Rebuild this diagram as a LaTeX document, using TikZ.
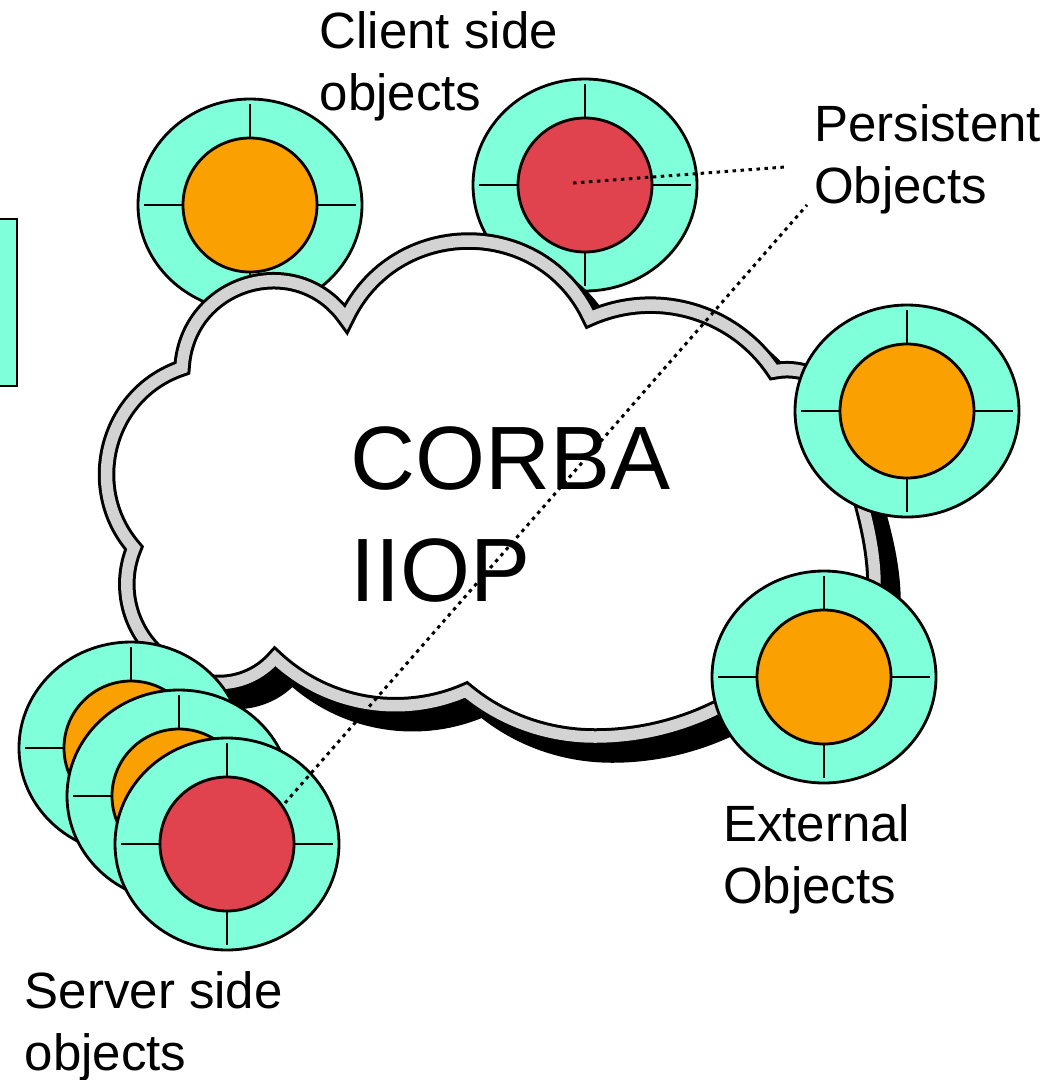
\documentclass[tikz,border=0pt]{standalone}
\usepackage{fontspec}
\setmainfont{Liberation Sans}
\definecolor{ringc}{RGB}{127,255,218}
\definecolor{corange}{RGB}{250,160,0}
\definecolor{cred}{RGB}{224,67,78}
\definecolor{cgray}{RGB}{211,211,211}
\def\cloudpath{(182,368) .. controls (187,281) and (297,248.8) .. (346,319)
 .. controls (394.6,215.7) and (541.4,214.7) .. (590,318)
 .. controls (656.1,288.6) and (733.7,311) .. (774,371)
 .. controls (822.8,361.2) and (863.9,407.8) .. (848,455)
 .. controls (860,495) and (875,540) .. (875,585)
 .. controls (875,625) and (830,652) .. (790,656)
 .. controls (738.5,707.8) and (668,737) .. (595,737)
 .. controls (548,737) and (502,721) .. (466,691)
 .. controls (401.5,719.2) and (326.4,706.2) .. (275,658)
 .. controls (246.2,691.1) and (194.9,692.1) .. (165,660)
 .. controls (130.2,634.2) and (117.4,588) .. (134,548)
 .. controls (82,488.2) and (107,393.2) .. (182,368) -- cycle}
\tikzset{
  outl/.style={draw=black, line width=2.8},
  ringfill/.style={outl, fill=ringc},
  pics/cobj/.style={code={
    \draw[ringfill] (0,0) ellipse[x radius=112, y radius=106];
    \draw[outl, fill=#1] (0,0) circle[radius=67];
    \draw[outl] (67,0) -- (106,0) (-67,0) -- (-106,0) (0,67) -- (0,101) (0,-67) -- (0,-101);
  }},
  lbl/.style={font=\fontsize{51}{62}\selectfont, align=left, inner sep=0pt, anchor=north west},
  big/.style={font=\fontsize{90}{112}\selectfont, align=left, inner sep=0pt, anchor=north west},
  dots/.style={line width=3, dash pattern=on 3.5pt off 4.5pt},
  cloudline/.style={line join=miter, miter limit=25}
}
\begin{document}
\begin{tikzpicture}[x=1pt, y=-1pt]
\useasboundingbox (0,0) rectangle (1063,1080);
% partial box at left edge
\draw[ringfill] (-10,219) rectangle (17,386);
% client side objects (behind cloud)
\pic (tl) at (250,205) {cobj=corange};
\pic (tr) at (585,185) {cobj=cred};
% cloud
\fill[black, draw=black, line width=17.5, cloudline, shift={(17,17)}] \cloudpath;
\draw[black, fill=white, line width=17.5, cloudline] \cloudpath;
\draw[cgray, line width=11.5, cloudline] \cloudpath;
% objects in front of cloud
\pic (rt) at (907,411) {cobj=corange};
\pic (ex) at (824,677) {cobj=corange};
\pic (s1) at (131,748) {cobj=corange};
\pic (s2) at (179,796) {cobj=corange};
\pic (s3) at (227,844) {cobj=cred};
% texts
\node[big] (corba) at (350,426) {CORBA\\IIOP};
\node[lbl] (client) at (319.5,11) {Client side\\objects};
\node[lbl] (pers) at (814,104) {Persistent\\Objects};
\node[lbl] (ext) at (723,804) {External\\Objects};
\node[lbl] (serv) at (24.6,971) {Server side\\objects};
% dotted leaders
\coordinate (p1) at (573,183);
\coordinate (p1e) at (785,167);
\coordinate (p2) at (285,803);
\coordinate (p2e) at (807,205);
\draw[dots] (p1) -- (p1e);
\draw[dots] (p2) -- (p2e);
\end{tikzpicture}
\end{document}
